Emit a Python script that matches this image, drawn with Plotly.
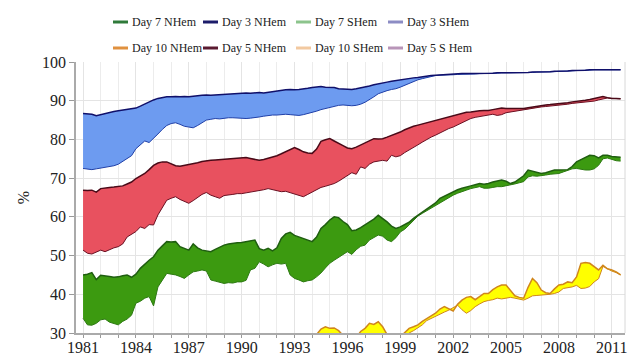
import plotly.graph_objects as go

# quarterly time stamps (12-month running means), 1981.0 .. 2011.5
years = [1981 + 0.25 * i for i in range(123)]
years10 = years[48:]  # Day 10 shown from 1993 on

day3_nh = [
    86.7, 86.6, 86.5, 86.1,  86.4, 86.8, 87.0, 87.2,  87.4, 87.6, 87.8, 88.0,
    88.1, 88.6, 89.2, 89.8,  90.2, 90.6, 90.8, 91.0,  91.0, 91.1, 91.0, 91.1,
    91.0, 91.2, 91.3, 91.4,  91.5, 91.4, 91.5, 91.6,  91.7, 91.8, 91.9, 91.9,
    92.0, 92.0, 91.9, 92.0,  92.1, 92.0, 92.2, 92.3,  92.5, 92.6, 92.8, 92.9,
    92.8, 92.9, 93.0, 93.2,  93.4, 93.6, 93.7, 93.5,  93.5, 93.4, 93.1, 93.0,
    93.0, 92.9, 93.1, 93.3,  93.5, 93.8, 94.1, 94.4,  94.6, 94.8, 95.0, 95.2,
    95.3, 95.5, 95.7, 95.9,  96.0, 96.2, 96.4, 96.5,  96.6, 96.7, 96.8, 96.8,
    96.9, 96.9, 97.0, 97.0,  97.0, 97.0, 97.1, 97.1,  97.1, 97.1, 97.2, 97.2,
    97.2, 97.2, 97.3, 97.3,  97.3, 97.3, 97.4, 97.4,  97.4, 97.5, 97.5, 97.6,
    97.6, 97.7, 97.7, 97.8,  97.8, 97.9, 97.9, 98.0,  98.0, 98.0, 98.1, 98.1,
    98.1, 98.1, 98.0,
]
day3_sh = [
    72.5, 72.3, 72.2, 72.4,  72.6, 72.8, 73.0, 73.2,  73.6, 74.4, 75.0, 75.8,
    77.6, 78.6, 79.6, 79.2,  80.2, 81.4, 82.6, 83.6,  84.1, 84.3, 83.9, 83.4,
    83.2, 83.0, 83.6, 84.3,  85.0, 85.2, 85.4, 85.3,  85.5, 85.6, 85.6, 85.5,
    85.4, 85.4, 85.5, 85.6,  85.8, 86.0, 86.2, 86.3,  86.3, 86.4, 86.5, 86.4,
    86.3, 86.2, 86.4, 86.7,  86.9, 87.3, 87.7, 88.0,  88.2, 88.5, 88.8, 88.9,
    88.8, 88.7, 88.8, 89.1,  89.6, 90.2, 91.0, 91.8,  92.3, 92.6, 92.9, 93.1,
    93.5, 94.0, 94.6, 95.0,  95.4, 95.7, 96.0, 96.3,  96.5, 96.6, 96.6, 96.7,
    96.7, 96.8, 96.8, 96.9,  96.9, 96.9, 97.0, 97.0,  97.0, 97.1, 97.1, 97.2,
    97.2, 97.2, 97.2, 97.3,  97.3, 97.3, 97.3, 97.4,  97.4, 97.4, 97.5, 97.5,
    97.6, 97.6, 97.7, 97.7,  97.8, 97.8, 97.9, 97.9,  98.0, 98.0, 98.0, 98.1,
    98.1, 98.1, 98.0,
]
day5_nh = [
    66.9, 66.8, 66.9, 66.4,  67.3, 67.5, 67.6, 67.7,  67.8, 68.0, 68.5, 69.0,
    69.9, 70.5, 71.2, 72.2,  73.3, 73.9, 74.2, 74.2,  73.6, 73.2, 73.1, 73.3,
    73.6, 73.8, 74.0, 74.3,  74.5, 74.6, 74.7, 74.8,  74.9, 75.0, 75.1, 75.1,
    75.2, 75.3, 75.1, 74.8,  74.6, 74.8, 75.1, 75.3,  75.8, 76.3, 76.8, 77.3,
    77.9, 77.4, 76.8, 76.5,  76.4, 77.5, 79.5, 79.9,  80.2, 79.6, 78.9, 78.4,
    77.8, 77.6, 78.0, 78.6,  79.2, 79.7, 80.2, 80.1,  80.2, 80.6, 81.0, 81.4,
    81.9, 82.5, 83.0, 83.4,  83.7, 84.0, 84.3, 84.7,  85.0, 85.3, 85.6, 85.9,
    86.2, 86.5, 86.8, 87.0,  87.1, 87.3, 87.4, 87.5,  87.5, 87.7, 88.0, 88.1,
    88.0, 88.0, 88.1, 88.0,  88.0, 88.2, 88.4, 88.6,  88.8, 88.9, 89.0, 89.1,
    89.3, 89.4, 89.5, 89.7,  89.8, 90.0, 90.1, 90.3,  90.6, 90.8, 91.1, 90.8,
    90.6, 90.6, 90.5,
]
day5_sh = [
    51.4, 50.6, 50.4, 50.8,  51.4, 51.0, 51.6, 52.0,  52.3, 53.0, 54.8, 55.6,
    56.2, 57.4, 57.0, 58.0,  57.9, 60.5, 62.6, 64.3,  64.8, 65.2, 64.5, 63.9,
    63.5, 64.2, 65.0, 65.8,  66.3, 65.6, 65.2, 64.8,  65.5, 65.6, 65.8, 66.0,
    66.0, 66.2, 66.4, 66.5,  66.8, 67.0, 67.3, 67.0,  66.8, 66.5, 66.6, 66.2,
    66.0, 65.4, 65.2, 65.8,  66.4, 67.0, 67.6, 67.9,  68.2, 68.6, 69.2, 69.9,
    70.5, 71.4, 71.0, 72.9,  72.5, 73.6, 74.2, 74.5,  74.6, 74.4, 75.9, 75.5,
    75.8, 76.6, 77.2, 77.9,  78.6, 79.3, 80.0, 80.6,  81.1, 81.7, 82.3, 82.8,
    83.2, 83.8, 84.4, 84.9,  85.4, 85.7, 85.9, 86.1,  86.2, 86.5, 86.2, 86.4,
    86.9, 87.1, 87.3, 87.5,  87.6, 87.9, 88.1, 88.3,  88.4, 88.5, 88.6, 88.7,
    88.8, 88.9, 89.1, 89.3,  89.4, 89.5, 89.6, 89.7,  89.9, 90.2, 90.5, 90.7,
    90.6, 90.5, 90.5,
]
day7_nh = [
    45.0, 45.2, 45.6, 43.8,  44.9, 44.8, 44.6, 44.4,  44.5, 44.8, 45.0, 44.4,
    45.2, 46.7, 47.8, 48.8,  49.7, 51.4, 52.5, 53.6,  53.5, 53.6, 52.3, 51.8,
    51.4, 53.0, 52.0, 51.4,  51.2, 51.0, 51.6, 52.2,  52.7, 53.0, 53.2, 53.3,
    53.4, 53.6, 53.8, 54.0,  51.8, 51.4, 51.9, 51.2,  52.0, 54.4, 55.6, 56.0,
    55.2, 54.8, 54.2, 53.8,  53.6, 54.8, 57.0, 58.0,  59.2, 60.0, 59.8, 58.8,
    58.0, 56.4, 56.6, 57.2,  57.9, 58.6, 59.4, 60.4,  59.6, 58.7, 57.6, 57.0,
    57.4, 57.9, 58.6, 59.6,  60.4, 61.2, 62.2, 62.9,  63.6, 64.8, 65.4, 66.0,
    66.5, 67.0, 67.4, 67.8,  68.0, 68.3, 68.6, 68.4,  68.6, 69.0, 69.2, 69.5,
    69.2, 68.6, 69.0, 69.9,  70.6, 72.1, 71.8, 71.4,  71.2, 71.4, 71.8, 72.1,
    72.1, 72.1, 72.2, 73.0,  74.2, 74.8, 75.4, 75.9,  75.8, 75.2, 75.9, 75.9,
    75.6, 75.5, 75.4,
]
day7_sh = [
    33.8, 32.1, 32.0, 32.5,  33.4, 33.6, 32.8, 32.4,  32.1, 33.0, 33.6, 34.6,
    37.7, 38.2, 39.0, 39.4,  37.0, 41.9, 43.5, 45.4,  45.2, 45.0, 44.6, 44.1,
    45.0, 45.8, 46.0, 46.3,  46.0, 43.7, 43.4, 43.0,  42.8, 43.0, 42.9, 43.2,
    43.2, 43.6, 46.3, 46.7,  48.4, 47.8, 47.1, 47.6,  48.0, 47.8, 48.0, 45.0,
    44.1, 43.7, 43.2, 43.5,  43.7, 44.5, 45.5, 46.8,  48.0, 48.8, 49.5, 50.1,
    51.0, 50.3, 51.5, 52.4,  52.7, 54.0, 54.6, 55.3,  55.0, 54.0, 53.6, 54.6,
    56.1, 56.8, 57.9, 59.0,  60.2, 60.9, 61.6, 62.3,  63.0, 63.6, 64.4, 65.0,
    65.6, 66.1, 66.6, 66.9,  67.3, 67.6, 67.8, 67.4,  67.4, 67.6, 67.8, 67.8,
    68.0, 68.2, 68.5, 68.8,  69.1, 70.3, 70.6, 70.5,  70.6, 70.8, 71.0, 71.1,
    71.2, 71.6, 72.0, 72.4,  72.5, 72.3, 72.1, 72.1,  72.4, 73.3, 75.0, 75.2,
    74.8, 74.5, 74.4,
]
day10_nh = [
    27.5, 28.0, 28.5, 29.0,  29.2, 29.6, 31.0, 31.6,  31.2, 31.3, 30.6, 29.4,
    28.6, 28.2, 28.8, 30.4,  31.2, 32.5, 32.2, 32.9,  31.6, 29.6, 28.8, 28.6,
    29.0, 30.0, 31.2, 31.6,  32.1, 33.0, 33.8, 34.4,  35.1, 36.2, 36.8, 36.2,
    35.7, 37.4, 38.5, 39.2,  39.4, 38.6, 39.4, 40.2,  40.2, 41.2, 41.9, 42.4,
    42.4, 41.0, 39.6, 39.2,  39.0, 41.8, 44.1, 43.0,  41.1, 40.4, 40.2, 41.4,
    42.4, 42.6, 43.2, 43.0,  44.5, 48.0, 48.2, 48.0,  47.1, 46.3, 47.5, 46.6,
    46.3, 45.8, 45.0,
]
day10_sh = [
    25.0, 25.5, 26.0, 26.5,  27.0, 27.5, 28.0, 28.5,  28.8, 29.0, 28.5, 28.0,
    27.5, 27.0, 27.5, 28.0,  28.5, 29.0, 29.5, 29.8,  29.5, 28.5, 27.8, 27.5,
    28.0, 29.0, 30.0, 30.6,  31.4, 32.1, 33.2, 33.8,  34.2, 34.8, 35.4, 35.9,
    36.6, 37.2, 36.0, 35.1,  35.8, 36.8, 37.5, 38.1,  38.4, 38.6, 39.0, 38.8,
    39.0, 39.2, 39.0, 38.7,  38.5, 39.0, 39.6, 39.7,  39.8, 39.8, 40.0, 40.2,
    40.6, 41.5, 41.7, 41.9,  42.3, 41.5, 41.6, 42.0,  43.2, 44.0, 47.2, 46.5,
    46.0, 45.6, 45.0,
]

x_ticks = [1981, 1984, 1987, 1990, 1993, 1996, 1999, 2002, 2005, 2008, 2011]
y_ticks = [30, 40, 50, 60, 70, 80, 90, 100]

legend_rows = [
    [("Day 7 NHem", "#2f7a3a"), ("Day 3 NHem", "#1c1c6a"),
     ("Day 7 SHem", "#8cc48c"), ("Day 3 SHem", "#8c8cc4")],
    [("Day 10 NHem", "#e0913f"), ("Day 5 NHem", "#5a1a30"),
     ("Day 10 SHem", "#f2c9a0"), ("Day 5 S Hem", "#b895b8")],
]

bands = [
    (years10, day10_sh, day10_nh, "#FFFF00", "#d0861c", "#d0861c"),
    (years, day7_sh, day7_nh, "#3c9a10", "#2d7a12", "#1f5e10"),
    (years, day5_sh, day5_nh, "#e8515f", "#6a1022", "#4a0a18"),
    (years, day3_sh, day3_nh, "#6d9bf0", "#2040a8", "#10106a"),
]

W, H = 630, 357
ML, MR, MT, MB = 76, 5, 62, 24
PW, PH = W - ML - MR, H - MT - MB

fig = go.Figure()
for xs, sh, nh, fillc, shc, nhc in bands:
    fig.add_trace(go.Scatter(x=xs, y=sh, mode="lines", line=dict(color=shc, width=1),
                             showlegend=False, hoverinfo="skip"))
    fig.add_trace(go.Scatter(x=xs, y=nh, mode="lines", line=dict(color=nhc, width=1.5),
                             fill="tonexty", fillcolor=fillc, showlegend=False, hoverinfo="skip"))

# legend built from shapes + text (two rows of four, as in the reference)
col_px = [113, 203, 296, 388]
row_px = [22, 48]
shapes = [dict(type="line", xref="paper", yref="paper", x0=1, x1=1, y0=0, y1=1,
               line=dict(color="#d8d8d8", width=1))]
annotations = []
for r, row in enumerate(legend_rows):
    yp = (H - MB - row_px[r]) / PH
    for c, (name, col) in enumerate(row):
        x0 = (col_px[c] - ML) / PW
        x1 = (col_px[c] + 15 - ML) / PW
        shapes.append(dict(type="line", xref="paper", yref="paper", x0=x0, x1=x1, y0=yp, y1=yp,
                           line=dict(color=col, width=3)))
        annotations.append(dict(text=name, xref="paper", yref="paper",
                                x=(col_px[c] + 17 - ML) / PW, y=yp,
                                xanchor="left", yanchor="middle", showarrow=False,
                                font=dict(family="Liberation Serif", size=12, color="#222222")))

fig.update_layout(
    width=W, height=H,
    margin=dict(l=ML, r=MR, t=MT, b=MB, autoexpand=False),
    paper_bgcolor="white", plot_bgcolor="white",
    font=dict(family="Liberation Serif", size=13, color="#222222"),
    showlegend=False,
    xaxis=dict(range=[1980.6, 2011.75], tickvals=x_ticks, ticktext=[str(v) for v in x_ticks],
               showgrid=True, gridcolor="#e4e4e4", gridwidth=1,
               minor=dict(dtick=1, tick0=1981, showgrid=True, gridcolor="#ececec",
                          ticks="outside", ticklen=3, tickcolor="#999999"),
               ticks="outside", ticklen=3, tickcolor="#999999", ticklabelstandoff=-4,
               showline=True, linecolor="#aaaaaa", linewidth=1.5, mirror=False,
               tickfont=dict(family="Liberation Serif", size=16, color="#222222"),
               zeroline=False),
    yaxis=dict(range=[30, 100], tickvals=y_ticks,
               showgrid=True, gridcolor="#e4e4e4", gridwidth=1,
               ticks="outside", ticklen=5, tickcolor="#999999",
               showline=True, linecolor="#aaaaaa", linewidth=1.5,
               tickfont=dict(family="Liberation Serif", size=16, color="#222222"),
               title=dict(text="%", font=dict(family="Liberation Serif", size=16, color="#222222"),
                          standoff=8),
               zeroline=False),
    shapes=shapes,
    annotations=annotations,
)

fig.write_html("out.html", config={"displayModeBar": False},
               post_script="document.body.style.margin='0px';")
